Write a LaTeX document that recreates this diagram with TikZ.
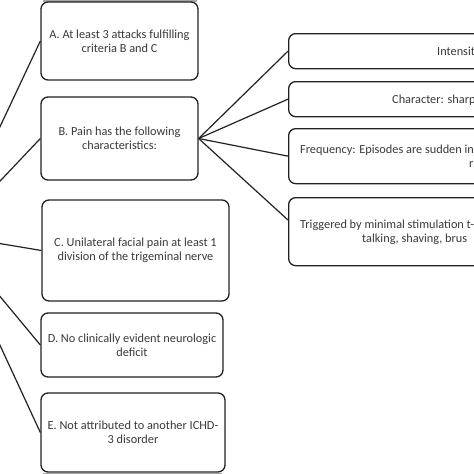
\documentclass[tikz,border=0pt]{standalone}
\usepackage{fontspec}
\setmainfont{Carlito}
\definecolor{txt}{HTML}{3A3A3A}
\definecolor{edge}{HTML}{222222}
\tikzset{
  box/.style={draw=edge, line width=1.3pt, rounded corners=7pt, inner sep=0pt,
    align=center, text=txt, font=\fontsize{12.3}{14}\selectfont},
  rbox/.style={draw=edge, line width=1.3pt, rounded corners=7pt, inner sep=0pt,
    minimum width=420pt, anchor=north west},
  lbl/.style={text=txt, font=\fontsize{12.3}{14}\selectfont, inner sep=0pt, anchor=base west},
  link/.style={draw=edge, line width=1.2pt}
}
\begin{document}
\begin{tikzpicture}[x=1pt,y=-1pt]
\useasboundingbox (0,0) rectangle (474,474);
\clip (0,0) rectangle (474,474);
\fill[white] (0,0) rectangle (474,474);
% thin grey shadow strips at the cut edges
\fill[black!35] (43,0) rectangle (197,1.5);
\fill[black!35] (43,472.5) rectangle (222,474);
% left-hand boxes
\node[box, minimum width=157pt, minimum height=78pt] (A) at (119.5,41)
  {A. At least 3 attacks fulfilling\\criteria B and C};
\node[box, minimum width=157pt, minimum height=83pt] (B) at (119.5,138.5)
  {B. Pain has the following\\characteristics:};
\node[box, minimum width=187pt, minimum height=101pt] (C) at (135.5,250.5)
  {C. Unilateral facial pain at least 1\\division of the trigeminal nerve};
\node[box, minimum width=182pt, minimum height=64pt] (D) at (132,345)
  {D. No clinically evident neurologic\\deficit};
\node[box, minimum width=184pt, minimum height=79pt] (E) at (133,432.5)
  {E. Not attributed to another ICHD-\\3 disorder};
% right-hand boxes (cut off by the right edge)
\node[rbox, minimum height=35pt] (R1) at (288,33) {};
\node[rbox, minimum height=35pt] (R2) at (288,81) {};
\node[rbox, minimum height=55pt] (R3) at (288,128) {};
\node[rbox, minimum height=68pt] (R4) at (288,197) {};
\node[lbl] (t1) at (437,55) {Intensit};
\node[lbl] (t2) at (392,103) {Character: sharp};
\node[lbl] (t3a) at (300,153) {Frequency: Episodes are sudden in};
\node[lbl] (t3b) at (469,167) {r};
\node[lbl] (t4a) at (300,228) {Triggered by minimal stimulation t-};
\node[lbl] (t4b) at (362,242) {talking, shaving, brus};
% root (off the left edge)
\coordinate (root) at (-51,235);
\coordinate (r4in) at (288,220);
\draw[link] (root) -- (A.west);
\draw[link] (root) -- (B.west);
\draw[link] (root) -- (C.west);
\draw[link] (root) -- (D.west);
\draw[link] (root) -- (E.west);
\draw[link] (B.east) -- (R1.west);
\draw[link] (B.east) -- (R2.west);
\draw[link] (B.east) -- (R3.west);
\draw[link] (B.east) -- (r4in);
\end{tikzpicture}
\end{document}
